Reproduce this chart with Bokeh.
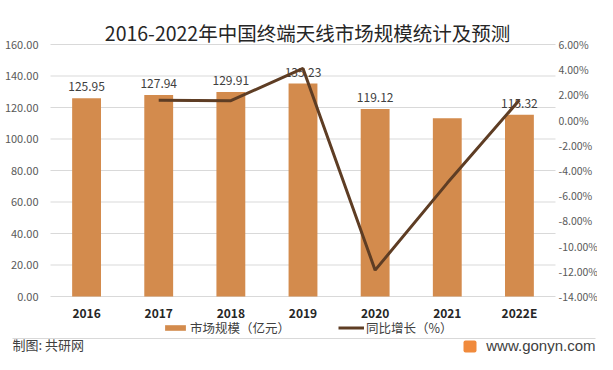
from bokeh.plotting import figure
from bokeh.models import (Range1d, LinearAxis, FixedTicker, NumeralTickFormatter,
                          Legend, LegendItem, Label, BoxAnnotation)
from bokeh.core.properties import value
from bokeh.embed import file_html
from bokeh.resources import INLINE

# ---------------- data ----------------
years = ["2016", "2017", "2018", "2019", "2020", "2021", "2022E"]
market_size = [125.95, 127.94, 129.91, 135.23, 119.12, 113.20, 115.32]   # 亿元
growth_pct = [None, 1.58, 1.54, 4.10, -11.91, -5.00, 1.60]             # %
label_shown = [True, True, True, True, True, False, True]
left_ticks = [0, 20, 40, 60, 80, 100, 120, 140, 160]
right_ticks = [-14, -12, -10, -8, -6, -4, -2, 0, 2, 4, 6]

title_text = "2016-2022年中国终端天线市场规模统计及预测"
bar_name = "市场规模（亿元）"
line_name = "同比增长（%）"
source_text = "制图: 共研网"
site_text = "www.gonyn.com"

FONT = "Noto Sans CJK SC"
BAR_COLOR = "#D38B4D"
LINE_COLOR = "#5E3D24"
GRID_COLOR = "#D9D9D9"

# ---------------- layout geometry (pixels in the figure) ----------------
W, H = 597, 354
PLOT_L, PLOT_R, PLOT_T, PLOT_B = 50, 555, 44, 296

n = len(years)
xs = list(range(n))
cat_px = (PLOT_R - PLOT_L) / n
x_lo = -0.5 - PLOT_L / cat_px
x_hi = (n - 0.5) + (W - PLOT_R) / cat_px

ymin, ymax = left_ticks[0], left_ticks[-1]
upx = (ymax - ymin) / (PLOT_B - PLOT_T)
y_lo = ymin - (H - PLOT_B) * upx
y_hi = ymax + PLOT_T * upx

pmin, pmax = right_ticks[0] / 100.0, right_ticks[-1] / 100.0
ppx = (pmax - pmin) / (PLOT_B - PLOT_T)
p_lo = pmin - (H - PLOT_B) * ppx
p_hi = pmax + PLOT_T * ppx

growth_frac = [float("nan") if g is None else g / 100.0 for g in growth_pct]

p = figure(x_range=Range1d(x_lo, x_hi), y_range=Range1d(y_lo, y_hi),
           width=W, height=H, output_backend="svg", toolbar_location=None,
           x_axis_type=None, y_axis_type=None, title=None,
           min_border_left=0, min_border_right=0, min_border_top=0, min_border_bottom=0)
p.outline_line_color = None
p.background_fill_color = "white"
p.border_fill_color = "white"
p.extra_y_ranges = {"pct": Range1d(p_lo, p_hi)}

# gridlines at the left-axis ticks, limited to the plot region
p.segment(x0=[-0.5] * len(left_ticks), x1=[n - 0.5] * len(left_ticks),
          y0=left_ticks, y1=left_ticks, line_color=GRID_COLOR, line_width=1)


def style_axis(ax, size, color, standoff, bold=False):
    ax.axis_line_color = None
    ax.major_tick_line_color = None
    ax.minor_tick_line_color = None
    ax.major_tick_out = 0
    ax.major_tick_in = 0
    ax.minor_tick_out = 0
    ax.minor_tick_in = 0
    ax.major_label_text_font = FONT
    ax.major_label_text_font_size = size
    ax.major_label_text_color = color
    ax.major_label_standoff = standoff
    if bold:
        ax.major_label_text_font_style = "bold"


# left axis
yax = LinearAxis(ticker=FixedTicker(ticks=left_ticks),
                 formatter=NumeralTickFormatter(format="0.00"), fixed_location=-0.5)
style_axis(yax, "11px", "#595959", 12)
p.add_layout(yax, "left")

# right axis
rax = LinearAxis(y_range_name="pct",
                 ticker=FixedTicker(ticks=[t / 100.0 for t in right_ticks]),
                 formatter=NumeralTickFormatter(format="0.00%"), fixed_location=n - 0.5)
style_axis(rax, "10.5px", "#595959", 3)
p.add_layout(rax, "right")

# bottom axis (categories)
xax = LinearAxis(ticker=FixedTicker(ticks=xs), fixed_location=0,
                 major_label_overrides={i: y for i, y in zip(xs, years)})
style_axis(xax, "12px", "#262626", 7, bold=True)
p.add_layout(xax, "below")

# bars
r_bar = p.vbar(x=xs, top=market_size, width=0.4, fill_color=BAR_COLOR, line_color=None)

# data labels
lx = [x for x, s in zip(xs, label_shown) if s]
ly = [v for v, s in zip(market_size, label_shown) if s]
lt = ["%.2f" % v for v, s in zip(market_size, label_shown) if s]
p.text(x=lx, y=ly, text=lt, text_align="center", text_baseline="bottom", y_offset=-7,
       text_font=value(FONT), text_font_size="12px", text_color="#404040")

# line
r_line = p.line(x=xs, y=growth_frac, y_range_name="pct", line_width=3, line_color=LINE_COLOR)

legend = Legend(items=[LegendItem(label=bar_name, renderers=[r_bar]),
                       LegendItem(label=line_name, renderers=[r_line])],
                orientation="horizontal", location=(162, H - 337),
                glyph_width=26, glyph_height=7, label_standoff=2, spacing=48,
                padding=0, margin=0, border_line_color=None, background_fill_alpha=0,
                label_text_font=FONT, label_text_font_size="12.5px",
                label_text_color="#404040", label_height=14)
p.add_layout(legend)

# title
p.add_layout(Label(x=307, y=H - 32, x_units="screen", y_units="screen", text=title_text,
                   text_align="center", text_baseline="middle", text_font=FONT,
                   text_font_size="19.5px", text_color="#262626"))

# footer
p.add_layout(BoxAnnotation(left=12, right=595, bottom=H - 338.5, top=H - 337.5,
                           left_units="screen", right_units="screen",
                           bottom_units="screen", top_units="screen",
                           fill_color=GRID_COLOR, fill_alpha=1, line_color=None))
p.add_layout(Label(x=12, y=1, x_units="screen", y_units="screen", text=source_text,
                   text_align="left", text_baseline="bottom", text_font=FONT,
                   text_font_size="13px", text_color="#404040"))
p.add_layout(BoxAnnotation(left=463, right=476, bottom=H - 352, top=H - 340,
                           left_units="screen", right_units="screen",
                           bottom_units="screen", top_units="screen",
                           fill_color="#F08A3C", fill_alpha=1, line_color=None,
                           border_radius=2))
p.add_layout(Label(x=595, y=1, x_units="screen", y_units="screen", text=site_text,
                   text_align="right", text_baseline="bottom", text_font="Liberation Sans",
                   text_font_size="15px", text_color="#404040"))

open("out.html", "w").write(file_html(p, INLINE))
